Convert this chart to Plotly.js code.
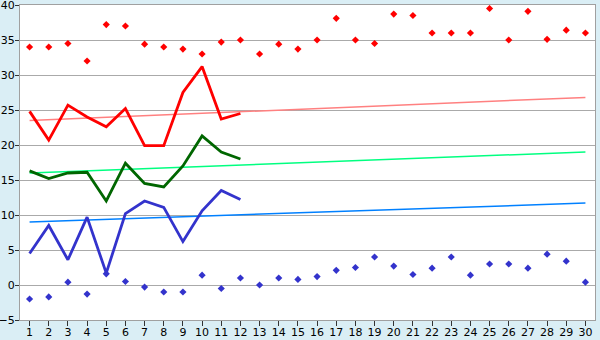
<!DOCTYPE html>
<html>
<head>
<meta charset="utf-8">
<script src="https://cdn.plot.ly/plotly-3.0.1.min.js"></script>
<style>html,body{margin:0;padding:0;background:#daeef5;}#chart{width:600px;height:340px;}</style>
</head>
<body>
<div id="chart"></div>
<script>
const days = Array.from({length: 30}, (_, i) => i + 1);
const maxPoints = [34, 34, 34.5, 32, 37.2, 37, 34.4, 34, 33.7, 33, 34.7, 35, 33, 34.4, 33.7, 35, 38.1, 35, 34.5, 38.7, 38.5, 36, 36, 36, 39.5, 35, 39.1, 35.1, 36.4, 36];
const minPoints = [-2, -1.7, 0.4, -1.3, 1.6, 0.5, -0.3, -1, -1, 1.4, -0.5, 1, 0, 1, 0.8, 1.2, 2.1, 2.5, 4, 2.7, 1.5, 2.4, 4, 1.4, 3, 3, 2.4, 4.4, 3.4, 0.4];
const lineDays = days.slice(0, 12);
const redLine = [24.8, 20.7, 25.7, 24, 22.6, 25.2, 19.9, 19.9, 27.5, 31.2, 23.7, 24.5];
const greenLine = [16.3, 15.2, 16, 16.1, 12, 17.4, 14.5, 14, 17, 21.3, 19, 18];
const blueLine = [4.5, 8.5, 3.6, 9.7, 1.7, 10.2, 12, 11.1, 6.2, 10.6, 13.5, 12.2];
const trendDays = [1, 30];
const redTrend = [23.5, 26.8];
const greenTrend = [16.0, 19.0];
const blueTrend = [9.0, 11.7];
const yTicks = [-5, 0, 5, 10, 15, 20, 25, 30, 35, 40];

const traces = [
  {x: trendDays, y: redTrend, mode: 'lines', line: {color: '#ff8080', width: 1.5}},
  {x: trendDays, y: greenTrend, mode: 'lines', line: {color: '#00ff80', width: 1.5}},
  {x: trendDays, y: blueTrend, mode: 'lines', line: {color: '#0080ff', width: 1.5}},
  {x: lineDays, y: redLine, mode: 'lines', line: {color: '#ff0000', width: 2.8}},
  {x: lineDays, y: greenLine, mode: 'lines', line: {color: '#006600', width: 2.8}},
  {x: lineDays, y: blueLine, mode: 'lines', line: {color: '#3333cc', width: 2.8}},
  {x: days, y: maxPoints, mode: 'markers', marker: {symbol: 'diamond', size: 5.5, color: '#ff0000'}},
  {x: days, y: minPoints, mode: 'markers', marker: {symbol: 'diamond', size: 5.5, color: '#3333cc'}}
];

const layout = {
  width: 600, height: 340,
  margin: {l: 20, r: 5, t: 5, b: 20},
  paper_bgcolor: '#daeef5',
  plot_bgcolor: '#ffffff',
  showlegend: false,
  font: {family: 'DejaVu Sans, Verdana, sans-serif', size: 11, color: '#000000'},
  xaxis: {
    range: [0.5, 30.5], tickvals: days, ticktext: days.map(String),
    showgrid: false, zeroline: false,
    showline: true, linecolor: '#a0a0a0', linewidth: 1, mirror: true,
    ticks: 'outside', ticklen: 5, tickcolor: '#333333',
    ticklabelstandoff: -3, ticklabeloverflow: 'allow',
    tickfont: {size: 11}
  },
  yaxis: {
    range: [-5, 40], tickvals: yTicks, ticktext: yTicks.map(v => v < 0 ? '\u2212' + Math.abs(v) : String(v)),
    showgrid: true, gridcolor: '#aaaaaa', gridwidth: 1, zeroline: false,
    showline: true, linecolor: '#a0a0a0', linewidth: 1, mirror: true,
    ticks: 'outside', ticklen: 4, tickcolor: '#333333',
    ticklabelstandoff: -2, ticklabeloverflow: 'allow',
    tickfont: {size: 11}
  }
};

Plotly.newPlot('chart', traces, layout, {staticPlot: true, displayModeBar: false});
</script>
</body>
</html>
